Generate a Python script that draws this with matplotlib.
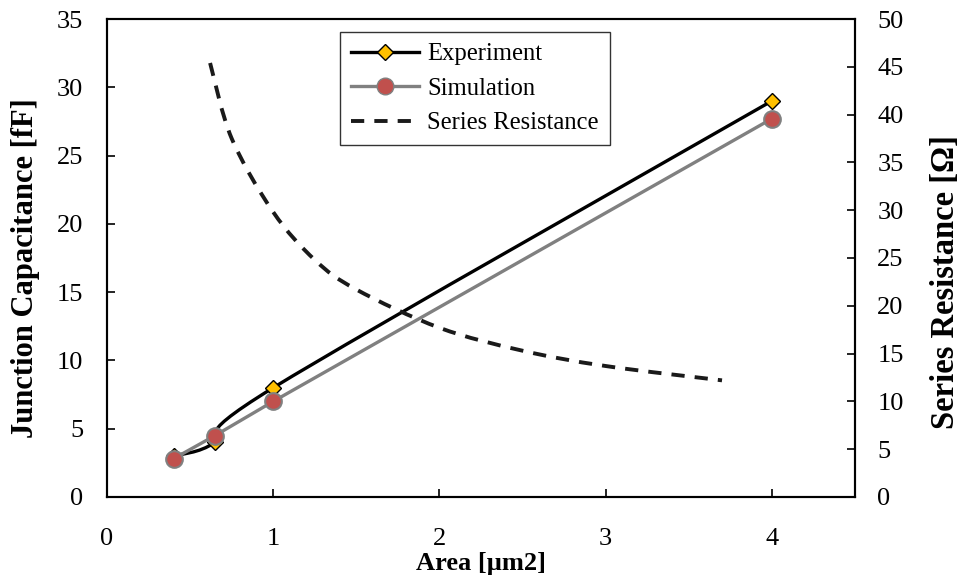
import matplotlib
matplotlib.use("Agg")
import matplotlib.pyplot as plt
from matplotlib.path import Path
from matplotlib.patches import PathPatch
from matplotlib.lines import Line2D
import numpy as np

# Datos
area_exp = [0.4, 0.65, 1.0, 4.0]
cap_exp = [3.0, 4.0, 8.0, 29.0]

area_sim = [0.4, 0.65, 1.0, 4.0]
cap_sim = [2.8, 4.5, 7.0, 27.7]

area_res = [0.62, 0.75, 1.0, 1.25, 1.5, 2.0, 2.5, 3.0, 3.7]
res_ser = [45.4, 37.5, 29.8, 24.8, 21.7, 17.7, 15.3, 13.7, 12.2]

x_ticks = [0, 1, 2, 3, 4]
y_left_ticks = [0, 5, 10, 15, 20, 25, 30, 35]
y_right_ticks = [0, 5, 10, 15, 20, 25, 30, 35, 40, 45, 50]

plt.rcParams['font.family'] = ['Liberation Serif', 'DejaVu Serif']

DASH = (0, (3.4, 2.6))


def curva_suave(ax, xs, ys, **kw):
    # Trazo suavizado tipo Excel (Bezier a través de los puntos)
    p = np.column_stack([xs, ys])
    verts = [p[0]]
    codes = [Path.MOVETO]
    n = len(p)
    for i in range(n - 1):
        p0 = p[i - 1] if i > 0 else p[i]
        p3 = p[i + 2] if i + 2 < n else p[i + 1]
        c1 = p[i] + (p[i + 1] - p0) / 6
        c2 = p[i + 1] - (p3 - p[i]) / 6
        verts += [c1, c2, p[i + 1]]
        codes += [Path.CURVE4] * 3
    patch = PathPatch(Path(verts, codes), fill=False, **kw)
    ax.add_patch(patch)
    return patch


fig, ax = plt.subplots(figsize=(9.6, 5.76), dpi=100)
fig.subplots_adjust(left=0.1115, right=0.8906, bottom=0.1372, top=0.967)
ax2 = ax.twinx()

# Experimento (línea suavizada)
curva_suave(ax, area_exp, cap_exp, edgecolor='black', linewidth=2.4, zorder=3)
ax.plot(area_exp, cap_exp, linestyle='none', marker='D', markersize=8,
        markerfacecolor='#FFC000', markeredgecolor='black', markeredgewidth=1.0, zorder=4)

# Simulación
ax.plot(area_sim, cap_sim, color='#808080', linewidth=2.4, marker='o', markersize=12,
        markerfacecolor='#C0504D', markeredgecolor='#808080', markeredgewidth=1.5, zorder=5)

# Resistencia serie (eje derecho)
curva_suave(ax2, area_res, res_ser, edgecolor='#1a1a1a', linewidth=2.8,
            linestyle=DASH, capstyle='butt')

ax.set_xlim(0, 4.5)
ax.set_ylim(0, 35)
ax2.set_ylim(0, 50)
ax.set_xticks(x_ticks)
ax.set_yticks(y_left_ticks)
ax2.set_yticks(y_right_ticks)

ax.tick_params(axis='x', direction='in', length=6, width=1.2, labelsize=19, pad=22)
ax.tick_params(axis='y', direction='in', length=6, width=1.2, labelsize=19, pad=17)
ax2.tick_params(axis='y', direction='in', length=6, width=1.2, labelsize=19, pad=16)

for a in (ax, ax2):
    for s in a.spines.values():
        s.set_linewidth(1.5)
        s.set_color('black')

ax.set_xlabel('Area [µm2]', fontsize=19, fontweight='bold')
ax.set_ylabel('Junction Capacitance [fF]', fontsize=22, fontweight='bold')
ax2.set_ylabel('Series Resistance [Ω]', fontsize=23.5, fontweight='bold')
ax.xaxis.set_label_coords(0.5, -0.1155)
ax.yaxis.set_label_coords(-0.090, 0.478)
ax2.yaxis.set_label_coords(1.1, 0.45)

handles = [
    Line2D([], [], color='black', linewidth=2.4, marker='D', markersize=8,
           markerfacecolor='#FFC000', markeredgecolor='black'),
    Line2D([], [], color='#808080', linewidth=2.4, marker='o', markersize=12,
           markerfacecolor='#C0504D', markeredgecolor='#808080'),
    Line2D([], [], color='#1a1a1a', linewidth=2.8, linestyle=DASH),
]
leg = ax2.legend(handles, ['Experiment', 'Simulation', 'Series Resistance'],
                 loc='upper left', bbox_to_anchor=(0.3115, 0.973), borderaxespad=0,
                 fontsize=17.7, frameon=True, fancybox=False, handlelength=2.75,
                 borderpad=0.45, labelspacing=0.5, handletextpad=0.35)
leg.get_frame().set_edgecolor('black')
leg.get_frame().set_linewidth(1.0)

fig.savefig('out.png', dpi=100)
